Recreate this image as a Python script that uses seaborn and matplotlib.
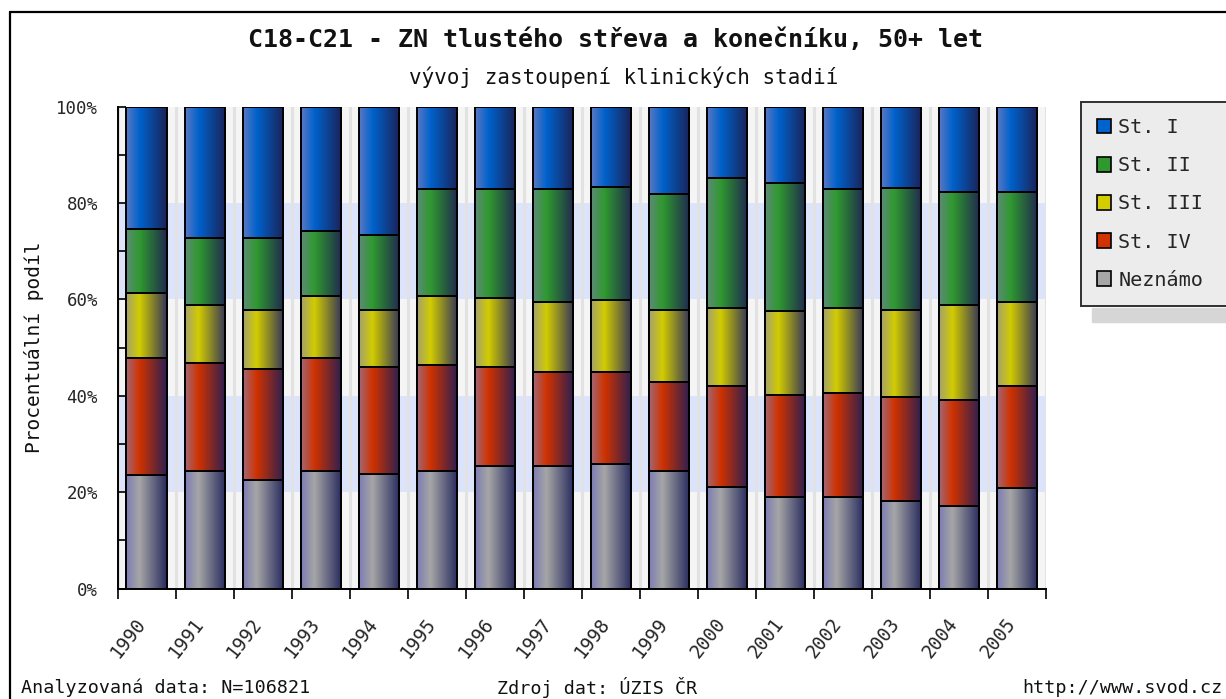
import numpy as np
import pandas as pd
import matplotlib
matplotlib.use("Agg")
import matplotlib.pyplot as plt
import seaborn as sns
from matplotlib.colors import LinearSegmentedColormap
from matplotlib.patches import Rectangle, Patch
from matplotlib.lines import Line2D
from matplotlib.transforms import ScaledTranslation

# ---------------- data (percent shares) ----------------
years = [str(y) for y in range(1990, 2006)]
neznamo = [23.5, 24.4, 22.5, 24.4, 23.8, 24.4, 25.4, 25.4, 25.9, 24.4, 21.0, 19.0, 19.0, 18.1, 17.2, 20.9]
st_IV   = [24.4, 22.3, 23.0, 23.5, 22.1, 22.0, 20.5, 19.6, 19.1, 18.5, 21.0, 21.1, 21.5, 21.7, 22.0, 21.1]
st_III  = [13.4, 12.1, 12.4, 12.8, 12.0, 14.4, 14.3, 14.4, 14.8, 15.0, 16.2, 17.4, 17.7, 18.1, 19.6, 17.4]
st_II   = [13.4, 14.0, 14.9, 13.5, 15.4, 22.1, 22.7, 23.5, 23.5, 23.9, 26.9, 26.7, 24.7, 25.3, 23.5, 22.9]
st_I    = [25.3, 27.2, 27.2, 25.8, 26.7, 17.1, 17.1, 17.1, 16.7, 18.2, 14.9, 15.8, 17.1, 16.8, 17.7, 17.7]

series_names = ["St. I", "St. II", "St. III", "St. IV", "Neznámo"]
y_ticks = [0, 20, 40, 60, 80, 100]

title = "C18-C21 - ZN tlustého střeva a konečníku, 50+ let"
subtitle = "vývoj zastoupení klinických stadií"
ylabel = "Procentuální podíl"
foot_left = "Analyzovaná data: N=106821"
foot_mid = "Zdroj dat: ÚZIS ČR"
foot_right = "http://www.svod.cz"

# gradient stops: (left, main, right)
grad = {
    "St. I":   ("#5d78c2", "#0062cc", "#1b2257"),
    "St. II":  ("#5f8a78", "#2f992f", "#20284f"),
    "St. III": ("#a3a070", "#d2cc00", "#33345a"),
    "St. IV":  ("#a06878", "#d03200", "#2b1f52"),
    "Neznámo": ("#7c7cb4", "#a6a6a6", "#272a5e"),
}

sns.set_theme(style="white")
plt.rcParams["font.family"] = ["DejaVu Sans Mono", "DejaVu Sans"]

W, H = 1226, 699
fig = plt.figure(figsize=(W / 100, H / 100), dpi=100)
fig.patch.set_facecolor("white")

x0, x1, ytop, ybot = 117.5, 1046.0, 106.7, 588.5
ax = fig.add_axes([x0 / W, 1 - ybot / H, (x1 - x0) / W, (ybot - ytop) / H])
ax.set_facecolor("#f5f5f5")

# background bands & faint verticals
for lo, hi in [(20, 40), (60, 80)]:
    ax.axhspan(lo, hi, color="#dce4fb", zorder=0, lw=0)
for b in np.arange(-0.5, 16, 1):
    ax.axvline(b, color="#e2e2e2", lw=2.2, zorder=0.5)

df = pd.DataFrame({"year": years, "St. I": st_I, "St. II": st_II, "St. III": st_III,
                   "St. IV": st_IV, "Neznámo": neznamo})
stack_bottom_up = ["Neznámo", "St. IV", "St. III", "St. II", "St. I"]
cum = df[stack_bottom_up].cumsum(axis=1)

for k, name in enumerate(series_names):
    z = 2 + 2 * k
    left, mid, right = grad[name]
    cmap = LinearSegmentedColormap.from_list(name, [(0, left), (0.33, mid), (1, right)])
    n_before = len(ax.patches)
    sns.barplot(x=df["year"], y=cum[name], color=mid, saturation=1, width=0.69,
                errorbar=None, ax=ax, zorder=z, linewidth=0)
    new = ax.patches[n_before:]
    gimg = np.linspace(0, 1, 256).reshape(1, -1)
    for p in new:
        px, py, pw, ph = p.get_x(), p.get_y(), p.get_width(), p.get_height()
        ax.imshow(gimg, cmap=cmap, extent=[px, px + pw, py, py + ph], aspect="auto",
                  interpolation="bilinear", zorder=z + 0.5)
        ax.add_patch(Rectangle((px, py), pw, ph, fill=False, edgecolor="black",
                               lw=1.4, zorder=z + 0.8))

ax.set_xlim(-0.5, 15.5)
ax.set_ylim(0, 100)

# y axis
ax.set_yticks(y_ticks)
ax.set_yticklabels([f"{v}%" for v in y_ticks])
ax.set_yticks([10, 30, 50, 70, 90], minor=True)
ax.tick_params(axis="y", which="both", direction="in", length=6, width=1.2,
               color="black", labelsize=12.5, pad=14, left=True)
ax.set_ylabel(ylabel, fontsize=14, color="#111111")
ax.yaxis.set_label_coords(-0.079, 0.5)

# x axis
ax.set_xlabel("")
ax.set_xticks(range(len(years)))
ax.set_xticklabels(years, rotation=52, ha="right", va="top", rotation_mode="anchor",
                   fontsize=13.5)
ax.set_xticks(np.arange(-0.5, 16, 1), minor=True)
ax.tick_params(axis="x", which="major", length=0, pad=18.5)
ax.tick_params(axis="x", which="minor", direction="out", length=7, width=1.2,
               color="black", bottom=True)
off = ScaledTranslation(-12 / 100, 0, fig.dpi_scale_trans)
for lab in ax.get_xticklabels():
    lab.set_transform(lab.get_transform() + off)

for s in ["top", "right"]:
    ax.spines[s].set_visible(False)
for s in ["left", "bottom"]:
    ax.spines[s].set_color("black")
    ax.spines[s].set_linewidth(1.4)
    ax.spines[s].set_zorder(20)

# titles
fig.text(616 / W, 1 - 40 / H, title, ha="center", va="center", fontsize=18,
         fontweight="bold", color="#111111")
fig.text(624 / W, 1 - 77 / H, subtitle, ha="center", va="center", fontsize=15,
         color="#111111")

# legend
handles = [Patch(facecolor=grad[n][1], edgecolor="black", lw=1.2) for n in series_names]
leg = fig.legend(handles, series_names, loc="upper left",
                 bbox_to_anchor=(1081 / W, 1 - 102 / H - 0.3, 200 / W, 0.3),
                 mode="expand", borderaxespad=0, fancybox=False, fontsize=14.5,
                 handlelength=0.7, handleheight=0.75, handletextpad=0.35,
                 labelspacing=0.95, borderpad=0.8, framealpha=1)
fr = leg.get_frame()
fr.set_facecolor("#ececec")
fr.set_edgecolor("#303030")
fr.set_linewidth(1.4)
fig.patches.append(Rectangle((1092 / W, 1 - 322 / H), 200 / W, 14 / H,
                             transform=fig.transFigure, color="#d6d6d6", zorder=0))

# outer frame (cut at right/bottom)
fig.add_artist(Line2D([9.5 / W, 9.5 / W], [0, 1 - 12 / H], transform=fig.transFigure,
                      color="black", lw=1.6))
fig.add_artist(Line2D([9.5 / W, 1], [1 - 12 / H, 1 - 12 / H], transform=fig.transFigure,
                      color="black", lw=1.6))

# footers
fy = 1 - 688 / H
fig.text(21 / W, fy, foot_left, ha="left", va="center", fontsize=13.2, color="#111111")
fig.text(497 / W, fy, foot_mid, ha="left", va="center", fontsize=13.2, color="#111111")
fig.text(1223 / W, fy, foot_right, ha="right", va="center", fontsize=13.2, color="#111111")

fig.savefig("out.png", dpi=100, facecolor="white")
